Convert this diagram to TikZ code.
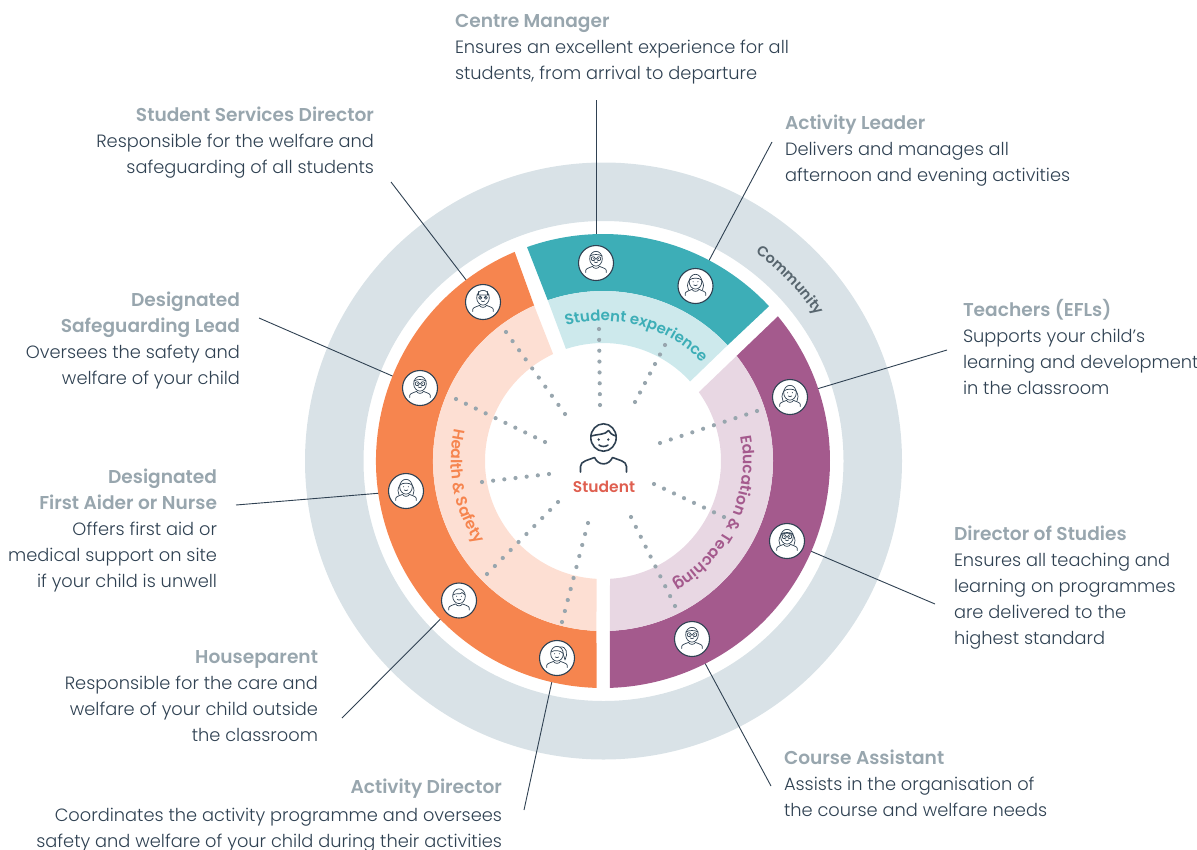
\documentclass[tikz,border=0pt]{standalone}
\usepackage{fontspec}
\setmainfont{Poppins}[UprightFont=* Light,BoldFont=* SemiBold]
\usetikzlibrary{calc,decorations.text}
\definecolor{ringgrey}{HTML}{D9E2E7}
\definecolor{tealdark}{HTML}{3DAEB7}
\definecolor{teallight}{HTML}{CDE9EC}
\definecolor{orangedark}{HTML}{F6854F}
\definecolor{orangelight}{HTML}{FDDFD3}
\definecolor{mauvedark}{HTML}{A45A8D}
\definecolor{mauvelight}{HTML}{E8D7E3}
\definecolor{titlegrey}{HTML}{98A6AE}
\definecolor{bodyink}{HTML}{2F4152}
\definecolor{studentred}{HTML}{DF5F50}
\definecolor{ringink}{HTML}{58666F}
\pgfdeclarelayer{rings}
\pgfdeclarelayer{lines}
\pgfdeclarelayer{segs}
\pgfsetlayers{rings,lines,segs,main}
\newcommand{\roletitle}[1]{\rule{0pt}{15pt}{\fontsize{18.6}{26}\selectfont\bfseries\color{titlegrey}#1}}
\tikzset{
  rolenote/.style={inner sep=0pt,outer sep=0pt,text=bodyink,font=\fontsize{17.8}{26}\selectfont},
  noteleft/.style={rolenote,anchor=north west,align=left},
  noteright/.style={rolenote,anchor=north east,align=right},
  leader/.style={draw=bodyink,line width=0.9pt},
  iconbadge/.style={circle,draw=bodyink,fill=white,line width=1.1pt,minimum size=35pt,inner sep=0pt},
  iconline/.style={draw=bodyink,line width=0.7pt,line cap=round,line join=round},
  person/.pic={
    \draw[iconline] (0,4.3) ellipse (6.3 and 7.4);
    \draw[iconline] (-10.3,-9.5) -- (-10.3,-7.5) .. controls (-10.3,-5.5) and (-6,-4.6) .. (-3.6,-3.4)
       .. controls (-2,-6) and (2,-6) .. (3.6,-3.4) .. controls (6,-4.6) and (10.3,-5.5) .. (10.3,-7.5) -- (10.3,-9.5);
    \draw[iconline] (-1.8,1) .. controls (-0.9,0.2) and (0.9,0.2) .. (1.8,1);
    \fill[bodyink] (-2.4,4.3) circle (0.55) (2.4,4.3) circle (0.55);
  },
  shorthair/.pic={\draw[iconline] (-6.2,5.5) .. controls (-3,8) and (2,5.5) .. (3,8) .. controls (4,6.5) and (5,6.5) .. (6.2,5.5);},
  longhair/.pic={\draw[iconline] (-6.2,6) .. controls (-8.5,2) and (-8.5,-1.5) .. (-7,-4) (6.2,6) .. controls (8.5,2) and (8.5,-1.5) .. (7,-4) (-6.2,6) .. controls (-3,8.5) and (3,8.5) .. (6.2,6);},
  ponytail/.pic={\draw[iconline] (-6.2,6) .. controls (-2,8.5) and (3,7.5) .. (5.8,5) (3,11) .. controls (10,12) and (11,4) .. (8,-2) .. controls (7.5,0) and (7,2) .. (5.8,5);},
  glasses/.pic={\draw[iconline] (-2.8,4.3) circle (2) (2.8,4.3) circle (2) (-0.8,4.3) -- (0.8,4.3) (-6.2,7) .. controls (-3,9) and (3,9) .. (6.2,7);},
  capband/.pic={\draw[iconline] (-6,7) -- (6,7) (-4.5,10.6) -- (-4.5,7.4) (4.5,10.6) -- (4.5,7.4) (-2.8,4.3) circle (1.6) (2.8,4.3) circle (1.6);},
  studentfigure/.pic={
    \draw[draw=bodyink,line width=1.6pt,line cap=round] (0,10.5) ellipse (12.7 and 13.7);
    \draw[draw=bodyink,line width=1.6pt,line cap=round,line join=round]
      (-12.5,12) .. controls (-6,14) and (2,13) .. (5,17.5) .. controls (6,15) and (9,13) .. (12.5,12);
    \draw[draw=bodyink,line width=1.6pt,line cap=round,line join=round]
      (-23,-24) -- (-23,-18.5) .. controls (-23,-13) and (-15,-12) .. (-9,-9.5)
      .. controls (-5,-18) and (5,-18) .. (9,-9.5) .. controls (15,-12) and (23,-13) .. (23,-18.5) -- (23,-24);
    \draw[draw=bodyink,line width=1.6pt,line cap=round] (-4.5,3) .. controls (-2,1) and (2,1) .. (4.5,3);
    \fill[bodyink] (-4.8,8.5) circle (1.3) (4.8,8.5) circle (1.3);
  },
}
% dark band, then pale band, of one sector
\newcommand{\sector}[8]{
  \fill[#7] (#1:227) arc[start angle=#1,end angle=#2,radius=227] -- (#4:170)
     arc[start angle=#4,end angle=#3,radius=170] -- cycle;
  \fill[#8] (#3:170) arc[start angle=#3,end angle=#4,radius=170] -- (#6:118)
     arc[start angle=#6,end angle=#5,radius=118] -- cycle;
}
\begin{document}
\begin{tikzpicture}[x=1pt,y=1pt]
  \useasboundingbox (0,0) rectangle (1197,-849);
  \coordinate (hub) at (603,-461);

  \begin{pgfonlayer}{rings}
    \fill[ringgrey,even odd rule] (603.5,-461) circle (298.5) (603.5,-461) circle (240);
  \end{pgfonlayer}

  \begin{pgfonlayer}{segs}
    \begin{scope}[shift={(hub)}]
      \sector{109.55}{43.0}{108.96}{42.9}{108.3}{42.4}{tealdark}{teallight}
      \sector{39.6}{-88.24}{38.2}{-87.65}{35.7}{-86.6}{mauvedark}{mauvelight}
      \sector{112.9}{268.37}{113.9}{267.8}{115}{266.85}{orangedark}{orangelight}
    \end{scope}
  \end{pgfonlayer}

  % spokes round the student
  \foreach \xa/\ya/\xb/\yb/\n in {
      600/405/599/329/7, 635/402/665/345/6, 660/443/757/411/9,
      654/484/724/517/7, 631/517/675/606/9, 588/523/562/622/9,
      558/502/487/574/9, 549/474/482/482/6, 545/442/456/399/9, 565/414/506/332/9}
    \foreach \i in {0,...,\n}
      \fill[titlegrey] ($(\xa,-\ya)!\i/\n!(\xb,-\yb)$) circle (2.1);

  % student in the middle
  \node[inner sep=0pt] (student) at (604,-487) {\fontsize{15.5}{18}\selectfont\bfseries\textcolor{studentred}{Student}};
  \pic at (603.5,-448) {studentfigure};

  % role badges
  \node[iconbadge] (managerIcon) at (596,-263) {};
  \node[iconbadge] (leaderIcon) at (695.5,-286) {};
  \node[iconbadge] (teachersIcon) at (790,-397) {};
  \node[iconbadge] (studiesIcon) at (787,-541) {};
  \node[iconbadge] (assistantIcon) at (692,-639) {};
  \node[iconbadge] (directorIcon) at (557,-658) {};
  \node[iconbadge] (houseIcon) at (459,-600.5) {};
  \node[iconbadge] (aiderIcon) at (406,-491) {};
  \node[iconbadge] (safeguardIcon) at (420,-388) {};
  \node[iconbadge] (servicesIcon) at (483,-302) {};
  \pic at (managerIcon) {person}; \pic at (managerIcon) {glasses};
  \pic at (leaderIcon) {person}; \pic at (leaderIcon) {longhair};
  \pic at (teachersIcon) {person}; \pic at (teachersIcon) {longhair};
  \pic at (studiesIcon) {person}; \pic at (studiesIcon) {longhair}; \pic at (studiesIcon) {glasses};
  \pic at (assistantIcon) {person}; \pic at (assistantIcon) {glasses};
  \pic at (directorIcon) {person}; \pic at (directorIcon) {ponytail};
  \pic at (houseIcon) {person}; \pic at (houseIcon) {shorthair};
  \pic at (aiderIcon) {person}; \pic at (aiderIcon) {longhair};
  \pic at (safeguardIcon) {person}; \pic at (safeguardIcon) {glasses};
  \pic at (servicesIcon) {person}; \pic at (servicesIcon) {capband};

  % notes
  \node[noteleft] (managerNote) at (455,-12.5) {\roletitle{Centre Manager}\\Ensures an excellent experience for all\\students, from arrival to departure};
  \node[noteright] (servicesNote) at (374,-106.5) {\roletitle{Student Services Director}\\Responsible for the welfare and\\safeguarding of all students};
  \node[noteleft] (leaderNote) at (785,-114.5) {\roletitle{Activity Leader}\\Delivers and manages all\\afternoon and evening activities};
  \node[noteright] (safeguardNote) at (240,-291.5) {\roletitle{Designated}\\\roletitle{Safeguarding Lead}\\Oversees the safety and\\welfare of your child};
  \node[noteleft] (teachersNote) at (963,-299.5) {\roletitle{Teachers (EFLs)}\\Supports your child’s\\learning and development\\in the classroom};
  \node[noteright] (aiderNote) at (217,-468.5) {\roletitle{Designated}\\\roletitle{First Aider or Nurse}\\Offers first aid or\\medical support on site\\if your child is unwell};
  \node[noteleft] (studiesNote) at (954,-525.5) {\roletitle{Director of Studies}\\Ensures all teaching and\\learning on programmes\\are delivered to the\\highest standard};
  \node[noteright] (houseNote) at (318,-648.5) {\roletitle{Houseparent}\\Responsible for the care and\\welfare of your child outside\\the classroom};
  \node[noteleft] (assistantNote) at (784,-749.5) {\roletitle{Course Assistant}\\Assists in the organisation of\\the course and welfare needs};
  \node[noteright] (directorNote) at (502,-778.5) {\roletitle{Activity Director}\\[2pt]Coordinates the activity programme and oversees\\safety and welfare of your child during their activities};

  % leader lines
  \coordinate (managerTip) at (596,-100);
  \coordinate (servicesTip) at (391,-182);
  \coordinate (leaderTip) at (772,-142);
  \coordinate (safeguardTip) at (259,-318);
  \coordinate (teachersTip) at (947,-350);
  \coordinate (aiderTip) at (236,-505);
  \coordinate (studiesTip) at (935,-604);
  \coordinate (houseTip) at (342,-718);
  \coordinate (assistantTip) at (771,-786);
  \coordinate (directorTip) at (524,-810);
  \begin{pgfonlayer}{lines}
    \foreach \who in {manager,services,leader,safeguard,teachers,aider,studies,house,assistant,director}
      \draw[leader] (\who Tip) -- (\who Icon);
  \end{pgfonlayer}

  % curved titles
  \begin{scope}[shift={(hub)}]
    \path[decorate,decoration={text along path,text align=center,
        text color=tealdark,text={|\fontsize{15}{18}\selectfont\bfseries|Student experience}}]
      (106:140) arc[start angle=106,end angle=44,radius=140];
    \path[decorate,decoration={text along path,text align=center,
        text color=ringink,text={|\fontsize{14.5}{18}\selectfont\bfseries|Community}}]
      (60:258) arc[start angle=60,end angle=28,radius=258];
    \path[decorate,decoration={text along path,text align=center,
        text color=orangedark,text={|\fontsize{15.5}{18}\selectfont\bfseries|Health {\&} Safety}}]
      (159:152) arc[start angle=159,end angle=222,radius=152];
    \path[decorate,decoration={text along path,text align=center,
        text color=mauvedark,text={|\fontsize{15.5}{18}\selectfont\bfseries|Education {\&} Teaching}}]
      (15:140) arc[start angle=15,end angle=-65,radius=140];
  \end{scope}
\end{tikzpicture}
\end{document}
